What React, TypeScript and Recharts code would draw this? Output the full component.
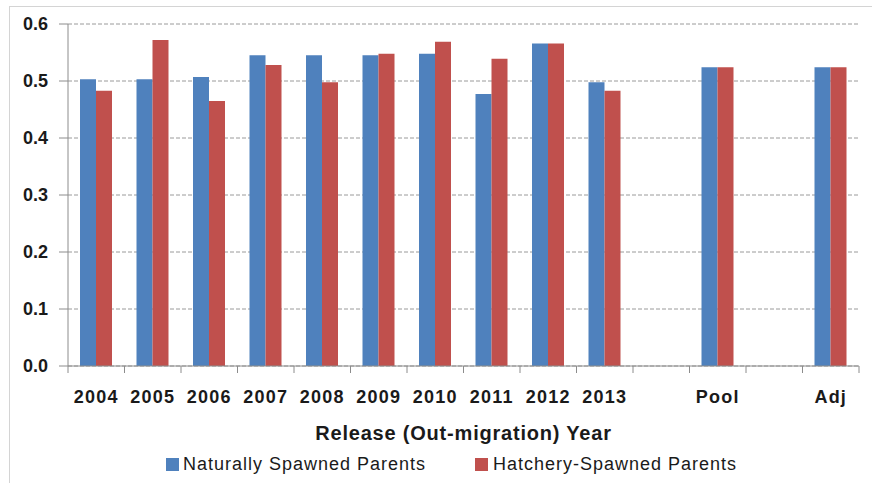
import React from 'react';
import { BarChart, Bar, XAxis, YAxis, CartesianGrid, Legend } from 'recharts';

const categories = ['2004', '2005', '2006', '2007', '2008', '2009', '2010', '2011', '2012', '2013', '', 'Pool', '', 'Adj'];
const naturalValues = [0.503, 0.503, 0.507, 0.545, 0.545, 0.545, 0.548, 0.477, 0.566, 0.498, null, 0.524, null, 0.524];
const hatcheryValues = [0.483, 0.572, 0.465, 0.528, 0.498, 0.548, 0.569, 0.539, 0.566, 0.483, null, 0.524, null, 0.524];
const yTicks = [0, 0.1, 0.2, 0.3, 0.4, 0.5, 0.6];
const seriesNames = ['Naturally Spawned Parents', 'Hatchery-Spawned Parents'];
const xTitle = 'Release (Out-migration) Year';

const BLUE = '#4F81BD';
const RED = '#C0504D';
const AXIS = '#8C8C8C';
const FONT = '"Liberation Sans", Arial, sans-serif';

const data = categories.map((c, i) => ({
  cat: c,
  natural: naturalValues[i],
  hatchery: hatcheryValues[i],
}));

const XTick = (props: any) => {
  const { x, y, payload, index, width } = props;
  const bw = width / categories.length;
  const top = y - 24;
  const xb = x - bw / 2;
  return (
    <g>
      <line x1={xb} x2={xb} y1={top} y2={top + 7} stroke={AXIS} strokeWidth={1} />
      {index === categories.length - 1 && (
        <line x1={x + bw / 2} x2={x + bw / 2} y1={top} y2={top + 7} stroke={AXIS} strokeWidth={1} />
      )}
      <text
        x={x}
        y={y + 13}
        textAnchor="middle"
        fill="#1a1a1a"
        fontFamily={FONT}
        fontWeight="bold"
        fontSize={18}
        letterSpacing={1.2}
      >
        {payload.value}
      </text>
    </g>
  );
};

const LegendContent = () => (
  <svg width={872} height={26} style={{ display: 'block' }}>
    <rect x={166} y={6} width={13} height={13} fill={BLUE} />
    <text x={183} y={18} fontFamily={FONT} fontSize={18} letterSpacing={1} fill="#1a1a1a">
      {seriesNames[0]}
    </text>
    <rect x={475} y={6} width={13} height={13} fill={RED} />
    <text x={493} y={18} fontFamily={FONT} fontSize={18} letterSpacing={1} fill="#1a1a1a">
      {seriesNames[1]}
    </text>
  </svg>
);

export default function App() {
  return (
    <div style={{ position: 'absolute', left: 0, top: 0, width: 872, height: 483, overflow: 'hidden', background: '#fff' }}>
      <div
        style={{
          position: 'absolute',
          left: 9,
          top: 6,
          width: 900,
          height: 520,
          borderTop: '1px solid #d4d4d4',
          borderLeft: '1px solid #d4d4d4',
        }}
      />
      <div style={{ position: 'absolute', left: 0, top: 0 }}>
        <BarChart
          width={872}
          height={483}
          data={data}
          margin={{ top: 24, right: 13, left: 0, bottom: 37 }}
          barGap={0}
          barSize={16}
        >
          <CartesianGrid vertical={false} stroke="#9a9a9a" strokeDasharray="4 2" />
          <XAxis
            dataKey="cat"
            height={80}
            interval={0}
            tickLine={false}
            tickSize={7}
            tickMargin={17}
            stroke={AXIS}
            tick={<XTick />}
            label={{
              value: xTitle,
              position: 'insideBottom',
              offset: 6,
              style: { fontFamily: FONT, fontWeight: 'bold', fontSize: 20, letterSpacing: 0.8, fill: '#1a1a1a' },
            }}
          />
          <YAxis
            width={68}
            domain={[0, 0.6]}
            ticks={yTicks}
            interval={0}
            tickFormatter={(v: number) => v.toFixed(1)}
            tickSize={9}
            tickMargin={11}
            stroke={AXIS}
            tick={{ fontFamily: FONT, fontWeight: 'bold', fontSize: 18, fill: '#1a1a1a' }}
          />
          <Legend
            layout="horizontal"
            verticalAlign="middle"
            align="center"
            content={<LegendContent />}
            wrapperStyle={{ left: 0, top: 452, width: 872, height: 26 }}
          />
          <Bar dataKey="natural" name={seriesNames[0]} fill={BLUE} isAnimationActive={false} />
          <Bar dataKey="hatchery" name={seriesNames[1]} fill={RED} isAnimationActive={false} />
        </BarChart>
      </div>
    </div>
  );
}
